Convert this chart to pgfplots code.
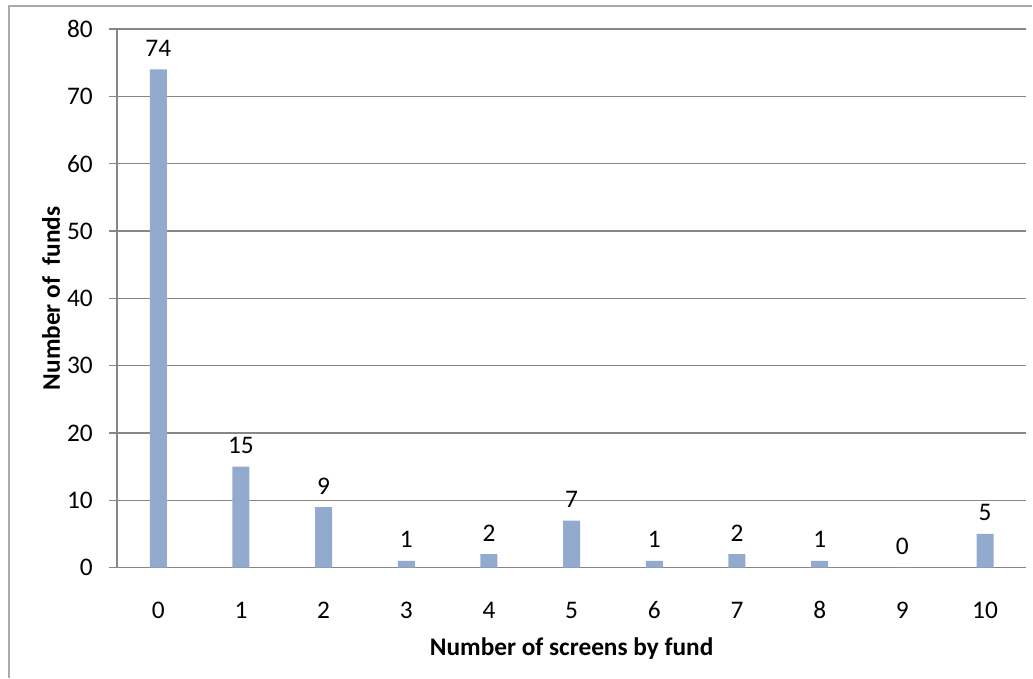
\documentclass[border=0pt]{standalone}
\usepackage{pgfplots}
\pgfplotsset{compat=1.18}
\usepackage{fontspec}
\setmainfont{Carlito}
\definecolor{axisgray}{RGB}{134,134,134}
\definecolor{framegray}{RGB}{170,170,170}
\definecolor{barblue}{RGB}{147,170,207}
\begin{document}
\begin{tikzpicture}
\path (0,0) rectangle (774.75pt,508.5pt);
\draw[line width=1pt, framegray] (6.75pt,0) -- (6.75pt,504pt) -- (774.75pt,504pt);
\begin{axis}[
  at={(87.75pt,82.5pt)}, anchor=south west, scale only axis,
  width=682.5pt, height=404.25pt,
  xmin=-0.5, xmax=10.5, ymin=0, ymax=80,
  ytick={0,10,...,80}, xtick={0,...,10},
  axis lines*=left,
  axis line style={draw=axisgray, line width=1pt, -},
  ymajorgrids, grid style={draw=axisgray, line width=0.8pt},
  tick align=outside, major tick length=6pt,
  ytick style={draw=axisgray, line width=1pt},
  xtick style={draw=none},
  /pgf/number format/assume math mode=true,
  ticklabel style={font=\fontsize{19}{22}\selectfont, inner sep=0pt},
  yticklabel style={anchor=east, xshift=-12pt},
  xticklabel style={anchor=base, yshift=-32.25pt},
  xlabel={\textbf{Number of screens by fund}},
  ylabel={\textbf{Number of\ \ funds}},
  xlabel style={at={(axis description cs:0.5,-0.1633)}, anchor=base, font=\fontsize{19}{22}\selectfont},
  ylabel style={at={(axis description cs:-0.0627,0.5)}, anchor=base, font=\fontsize{19}{22}\selectfont},
  ybar, bar width=12.75pt,
  nodes near coords,
  every node near coord/.append style={font=\fontsize{19}{22}\selectfont, inner sep=0pt, anchor=south, yshift=9.5pt, text=black},
]
\addplot[fill=barblue, draw=none] coordinates {
  (0,74) (1,15) (2,9) (3,1) (4,2) (5,7) (6,1) (7,2) (8,1) (9,0) (10,5)
};
\end{axis}
\end{tikzpicture}
\end{document}
